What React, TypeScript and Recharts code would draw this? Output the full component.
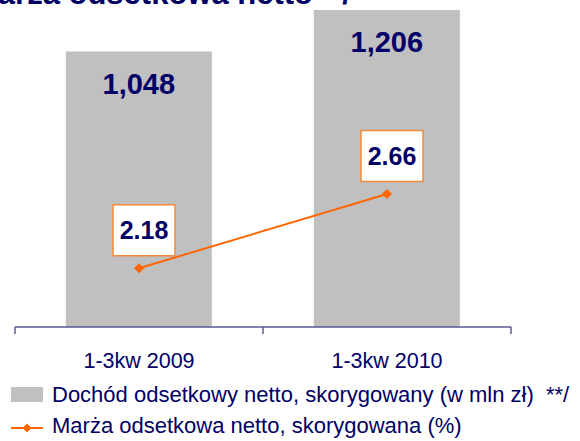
import React from "react";
import {
  ComposedChart,
  Bar,
  Line,
  XAxis,
  YAxis,
  LabelList,
  Legend,
} from "recharts";

// ---- data ----
const categories = ["1-3kw 2009", "1-3kw 2010"];
const netInterestIncome = [1048, 1206];
const netInterestMargin = [2.18, 2.66];
const incomeDomain = [0, 1206];
const marginDomain = [1.8, 3.85];
const titleText = "Marża odsetkowa netto  */";
const incomeName = "Dochód odsetkowy netto, skorygowany (w mln zł)  **/";
const marginName = "Marża odsetkowa netto, skorygowana (%)";

const data = categories.map((c, i) => ({
  category: c,
  income: netInterestIncome[i],
  margin: netInterestMargin[i],
}));

const NAVY = "#000066";
const GREY = "#c0c0c0";
const ORANGE = "#ff6600";
const BOX_ORANGE = "#f5893a";
const AXIS = "#5a5a96";
const FONT = "'Liberation Sans', Arial, sans-serif";
const TICK_GAP = 26; // tickSize + tickMargin
const BOUNDARY_TICK = 7;

const fmtIncome = (v: number) => v.toLocaleString("en-US");

const CategoryTick = (props: any) => {
  const { x, y, payload, index, visibleTicksCount } = props;
  const half = Number(payload?.offset ?? 0);
  const axisY = Number(y) - TICK_GAP;
  const lines = [
    <line
      key="l"
      x1={x - half}
      x2={x - half}
      y1={axisY}
      y2={axisY + BOUNDARY_TICK}
      stroke={AXIS}
      strokeWidth={1.5}
    />,
  ];
  if (index === visibleTicksCount - 1) {
    lines.push(
      <line
        key="r"
        x1={x + half}
        x2={x + half}
        y1={axisY}
        y2={axisY + BOUNDARY_TICK}
        stroke={AXIS}
        strokeWidth={1.5}
      />
    );
  }
  return (
    <g>
      {lines}
      <text
        x={x}
        y={Number(y) + 15}
        textAnchor="middle"
        fontSize={21.5}
        fill={NAVY}
        fontFamily={FONT}
      >
        {payload.value}
      </text>
    </g>
  );
};

const BarValueLabel = (props: any) => {
  const x = Number(props.x);
  const y = Number(props.y);
  const w = Number(props.width);
  return (
    <text
      x={x + w / 2}
      y={y + 42}
      textAnchor="middle"
      fontSize={29}
      fontWeight="bold"
      fill={NAVY}
      fontFamily={FONT}
    >
      {fmtIncome(Number(props.value))}
    </text>
  );
};

const MarginLabel = (props: any) => {
  const cx = Number(props.x) + 5;
  const cy = Number(props.y) - 38;
  return (
    <g>
      <rect
        x={cx - 31}
        y={cy - 25.5}
        width={62}
        height={51}
        fill="#ffffff"
        stroke={BOX_ORANGE}
        strokeWidth={1.5}
      />
      <text
        x={cx}
        y={cy + 9}
        textAnchor="middle"
        fontSize={25}
        fontWeight="bold"
        fill={NAVY}
        fontFamily={FONT}
      >
        {Number(props.value).toFixed(2)}
      </text>
    </g>
  );
};

const Diamond = (props: any) => {
  const { cx, cy, index } = props;
  const s = 4.5;
  return (
    <path
      key={`d-${index}`}
      d={`M${cx},${cy - s} L${cx + s},${cy} L${cx},${cy + s} L${cx - s},${cy} Z`}
      fill={ORANGE}
      stroke={ORANGE}
    />
  );
};

const LegendContent = () => {
  const textStyle: React.CSSProperties = {
    position: "absolute",
    left: 52,
    fontSize: 22,
    lineHeight: "22px",
    color: NAVY,
    fontFamily: FONT,
    whiteSpace: "pre",
  };
  return (
    <div style={{ position: "relative", width: 580, height: 441 }}>
      <div
        style={{
          position: "absolute",
          left: 11,
          top: 387,
          width: 32,
          height: 15,
          background: GREY,
        }}
      />
      <div style={{ ...textStyle, top: 384.4 }}>{incomeName}</div>
      <svg
        style={{ position: "absolute", left: 0, top: 418 }}
        width={50}
        height={20}
      >
        <line x1={11} y1={10} x2={43} y2={10} stroke={ORANGE} strokeWidth={2} />
        <path d="M27,5.5 L31.5,10 L27,14.5 L22.5,10 Z" fill={ORANGE} />
      </svg>
      <div style={{ ...textStyle, top: 415.4 }}>{marginName}</div>
    </div>
  );
};

export default function App() {
  return (
    <div
      style={{
        position: "absolute",
        left: 0,
        top: 0,
        width: 580,
        height: 441,
        overflow: "hidden",
        background: "#ffffff",
        fontFamily: FONT,
      }}
    >
      <div
        style={{
          position: "absolute",
          left: -28,
          top: -22.3,
          fontSize: 31,
          lineHeight: "31px",
          fontWeight: "bold",
          color: NAVY,
          whiteSpace: "pre",
          fontFamily: FONT,
        }}
      >
        {titleText}
      </div>
      <ComposedChart
        width={580}
        height={441}
        data={data}
        margin={{ top: 10, right: 69, bottom: 84, left: 15 }}
        barCategoryGap="20.5%"
      >
        <XAxis
          xAxisId="cat"
          dataKey="category"
          height={30}
          axisLine={{ stroke: AXIS, strokeWidth: 1.5 }}
          tickLine={false}
          tickSize={6}
          tickMargin={20}
          interval={0}
          tick={CategoryTick}
        />
        <YAxis yAxisId="income" hide domain={incomeDomain} />
        <YAxis yAxisId="margin" hide orientation="right" domain={marginDomain} />
        <Bar
          xAxisId="cat"
          yAxisId="income"
          dataKey="income"
          name={incomeName}
          fill={GREY}
          isAnimationActive={false}
        >
          <LabelList dataKey="income" content={BarValueLabel} />
        </Bar>
        <Line
          xAxisId="cat"
          yAxisId="margin"
          dataKey="margin"
          name={marginName}
          stroke={ORANGE}
          strokeWidth={2}
          dot={Diamond}
          activeDot={false}
          isAnimationActive={false}
        >
          <LabelList dataKey="margin" content={MarginLabel} />
        </Line>
        <Legend
          layout="horizontal"
          verticalAlign="middle"
          align="center"
          content={LegendContent}
          wrapperStyle={{ left: 0, top: 0, width: 580, height: 441, pointerEvents: "none" }}
        />
      </ComposedChart>
    </div>
  );
}
